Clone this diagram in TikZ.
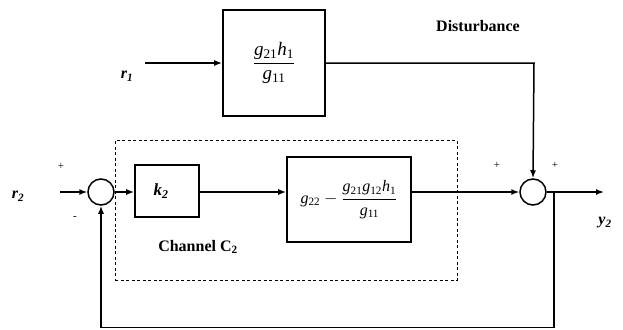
\documentclass[tikz,border=0pt]{standalone}
\usepackage{fontspec}
\setmainfont{Liberation Serif}
\usetikzlibrary{arrows.meta}
\newcommand{\gsub}[2]{\textit{#1}\textsubscript{#2}}
\tikzset{
  blk/.style={draw, line width=1.6pt, minimum width=#1},
  sumc/.style={draw, circle, line width=1.5pt, minimum size=26pt, inner sep=0pt},
  conn/.style={line width=1.5pt},
  arr/.style={conn, -{Latex[length=8pt,width=6pt]}},
  lab/.style={font=\fontsize{16}{19}\selectfont\bfseries},
  sgn/.style={font=\fontsize{11}{13}\selectfont},
  chan/.style={draw, dashed, line width=0.8pt, dash pattern=on 3pt off 2.5pt},
}
\begin{document}
\begin{tikzpicture}[x=1pt,y=-1pt]
\useasboundingbox (0,0) rectangle (623,329);
\fill[white] (0,0) rectangle (623,329);
% dashed channel box
\node[chan, minimum width=342pt, minimum height=140pt, inner sep=0pt] (chanbox) at (286,210) {};
\node[lab] (chanlab) at (198,247) {Channel C\textsubscript{2}};
% top disturbance block
\node[blk=102pt, minimum height=106pt, inner sep=0pt] (top) at (274,63)
  {\fontsize{19}{22}\selectfont$\displaystyle\frac{\mbox{\gsub{g}{21}\textit{h}\textsubscript{1}}}{\mbox{\gsub{g}{11}}}$};
\node[lab, font=\fontsize{16}{19}\selectfont\bfseries\itshape] (r1) at (127,76) {r\textsubscript{1}};
\coordinate (r1s) at (145,63);
\node[lab] (dist) at (478,26) {Disturbance};
% main loop
\node[sumc] (c1) at (101,192) {};
\node[sumc] (c2) at (533,192) {};
\node[blk=64pt, minimum height=52pt, inner sep=0pt] (k2) at (167,191)
  {\fontsize{17}{20}\selectfont\bfseries\itshape\hspace*{-12pt}k\textsubscript{2}};
\node[blk=124pt, minimum height=85pt, inner sep=0pt] (big) at (349,199.5)
  {\fontsize{16}{19}\selectfont$\mbox{\gsub{g}{22}}-\displaystyle\frac{\mbox{\gsub{g}{21}\gsub{g}{12}\textit{h}\textsubscript{1}}}{\mbox{\gsub{g}{11}}}$};
\node[lab, font=\fontsize{16}{19}\selectfont\bfseries\itshape] (r2) at (18,196) {r\textsubscript{2}};
\coordinate (r2s) at (60,192);
\node[lab, font=\fontsize{16}{19}\selectfont\bfseries\itshape] (y2) at (605,223) {y\textsubscript{2}};
\coordinate (yout) at (604,192);
\coordinate (br) at (554,192);
\coordinate (fbr) at (554,327.5);
\coordinate (fbl) at (101,327.5);
\coordinate (dcorner) at (534,63);
% signs
\node[sgn] (p1) at (61,166) {+};
\node[sgn] (m1) at (75,218) {-};
\node[sgn] (p2) at (497,165) {+};
\node[sgn] (p3) at (555,165) {+};
% connectors
\draw[arr] (r1s) -- (top.west |- r1s);
\draw[arr] (top.east |- dcorner) -- (dcorner) -- (c2.north);
\draw[arr] (r2s) -- (c1.west);
\draw[arr] (c1.east) -- (k2.west |- c1.east);
\draw[arr] (k2.east |- c1.east) -- (big.west |- c1.east);
\draw[arr] (big.east |- c2.west) -- (c2.west);
\draw[arr] (c2.east) -- (yout);
\draw[conn, -{Latex[length=8pt,width=6pt]}] (br) -- (fbr) -- (fbl) -- (c1.south);
\end{tikzpicture}
\end{document}
